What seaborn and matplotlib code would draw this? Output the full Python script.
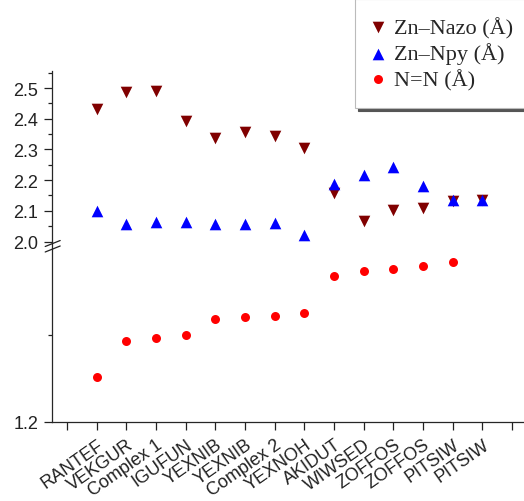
import numpy as np
import matplotlib
matplotlib.use("Agg")
import matplotlib.pyplot as plt
from matplotlib.lines import Line2D
from matplotlib.ticker import MultipleLocator, FixedLocator
import seaborn as sns

# data
names = ["RANTEF", "VEKGUR", "Complex 1", "IGUFUN", "YEXNIB", "YEXNIB",
         "Complex 2", "YEXNOH", "AKIDUT", "WIWSED", "ZOFFOS", "ZOFFOS",
         "PITSIW", "PITSIW"]
zn_nazo = [2.432, 2.488, 2.490, 2.393, 2.336, 2.358, 2.344, 2.304,
           2.158, 2.067, 2.104, 2.108, 2.131, 2.136]
zn_npy = [2.098, 2.058, 2.063, 2.064, 2.058, 2.058, 2.061, 2.020,
          2.188, 2.218, 2.243, 2.182, 2.134, 2.136]
n_n = [1.2256, 1.2464, 1.2484, 1.2502, 1.2592, 1.2602, 1.2611, 1.2625,
       1.2842, 1.2871, 1.2881, 1.2900, 1.2919]

pos = np.arange(1, len(names) + 1)

sns.set_style("ticks")
plt.rcParams["font.family"] = ["Liberation Sans", "DejaVu Sans"]
plt.rcParams["axes.linewidth"] = 0.9

W, H = 524, 502
fig = plt.figure(figsize=(W / 100, H / 100), dpi=100)

unit = 29.667
x_left = 67 - 0.5 * unit
ax_w = 16 * unit
y_low_bot, y_mid, y_top = 422.7, 242.5, 71.7

ax_lo = fig.add_axes([x_left / W, (H - y_low_bot) / H, ax_w / W, (y_low_bot - y_mid) / H])
ax_hi = fig.add_axes([x_left / W, (H - y_mid) / H, ax_w / W, (y_mid - y_top) / H])

c_nazo = "#800000"
c_npy = "#0000FF"
c_nn = "#FF0000"

sns.scatterplot(x=pos, y=zn_nazo, marker="v", color=c_nazo, s=70, linewidth=0,
                ax=ax_hi, legend=False)
sns.scatterplot(x=pos, y=zn_npy, marker="^", color=c_npy, s=70, linewidth=0,
                ax=ax_hi, legend=False)
sns.scatterplot(x=pos[:len(n_n)], y=n_n, marker="o", color=c_nn, s=42, linewidth=0,
                ax=ax_lo, legend=False)

for ax in (ax_lo, ax_hi):
    ax.set_xlim(-0.5, 15.5)
    ax.spines["right"].set_visible(False)
    ax.spines["top"].set_visible(False)
    ax.set_xlabel("")
    ax.set_ylabel("")
    ax.set_facecolor("none")
    ax.tick_params(axis="y", which="major", length=6, width=0.9, labelsize=13,
                   pad=4, colors="#222222")
    ax.tick_params(axis="y", which="minor", length=3, width=0.9, colors="#222222")

ax_hi.spines["bottom"].set_visible(False)
ax_hi.tick_params(axis="x", bottom=False, labelbottom=False)
ax_hi.set_ylim(2.0, 2.0 + (y_mid - y_top) / 306.8)
ax_hi.yaxis.set_major_locator(FixedLocator([2.0, 2.1, 2.2, 2.3, 2.4, 2.5]))
ax_hi.yaxis.set_minor_locator(MultipleLocator(0.05))
ax_hi.set_yticklabels(["2.0", "2.1", "2.2", "2.3", "2.4", "2.5"])

ax_lo.set_ylim(1.2, 1.2 + (y_low_bot - y_mid) / 1734)
ax_lo.yaxis.set_major_locator(FixedLocator([1.2]))
ax_lo.yaxis.set_minor_locator(FixedLocator([1.25]))
ax_lo.set_yticklabels(["1.2"])
ax_lo.set_xticks(np.arange(0, 16))
ax_lo.set_xticklabels([""] + names + [""])
ax_lo.tick_params(axis="x", length=6, width=0.9, labelsize=13, pad=4, colors="#222222")
for lab in ax_lo.get_xticklabels():
    lab.set_rotation(35)
    lab.set_ha("right")
    lab.set_va("top")
    lab.set_rotation_mode("anchor")

# axis break marks
sx = 52.2
for dy in (0, 5.5):
    fig.add_artist(Line2D([(sx - 7) / W, (sx + 8) / W],
                          [(H - (247.5 + dy)) / H, (H - (241.5 + dy)) / H],
                          color="#222222", lw=0.9, transform=fig.transFigure))

handles = ax_hi.collections[:2] + ax_lo.collections[:1]
labels = ["Zn\u2013Nazo (Å)", "Zn\u2013Npy (Å)", "N=N (Å)"]
leg = fig.legend(handles, labels, loc="lower left",
                 bbox_to_anchor=(355 / W, (H - 109) / H), borderaxespad=0,
                 prop={"family": ["Liberation Serif"], "size": 16},
                 handlelength=0.5, handletextpad=0.45, labelspacing=0.2,
                 borderpad=0.8, frameon=True, fancybox=False,
                 shadow={"color": "#555555", "alpha": 1.0}, edgecolor="#bbbbbb")
leg.get_frame().set_linewidth(0.8)

fig.savefig("out.png", dpi=100)
